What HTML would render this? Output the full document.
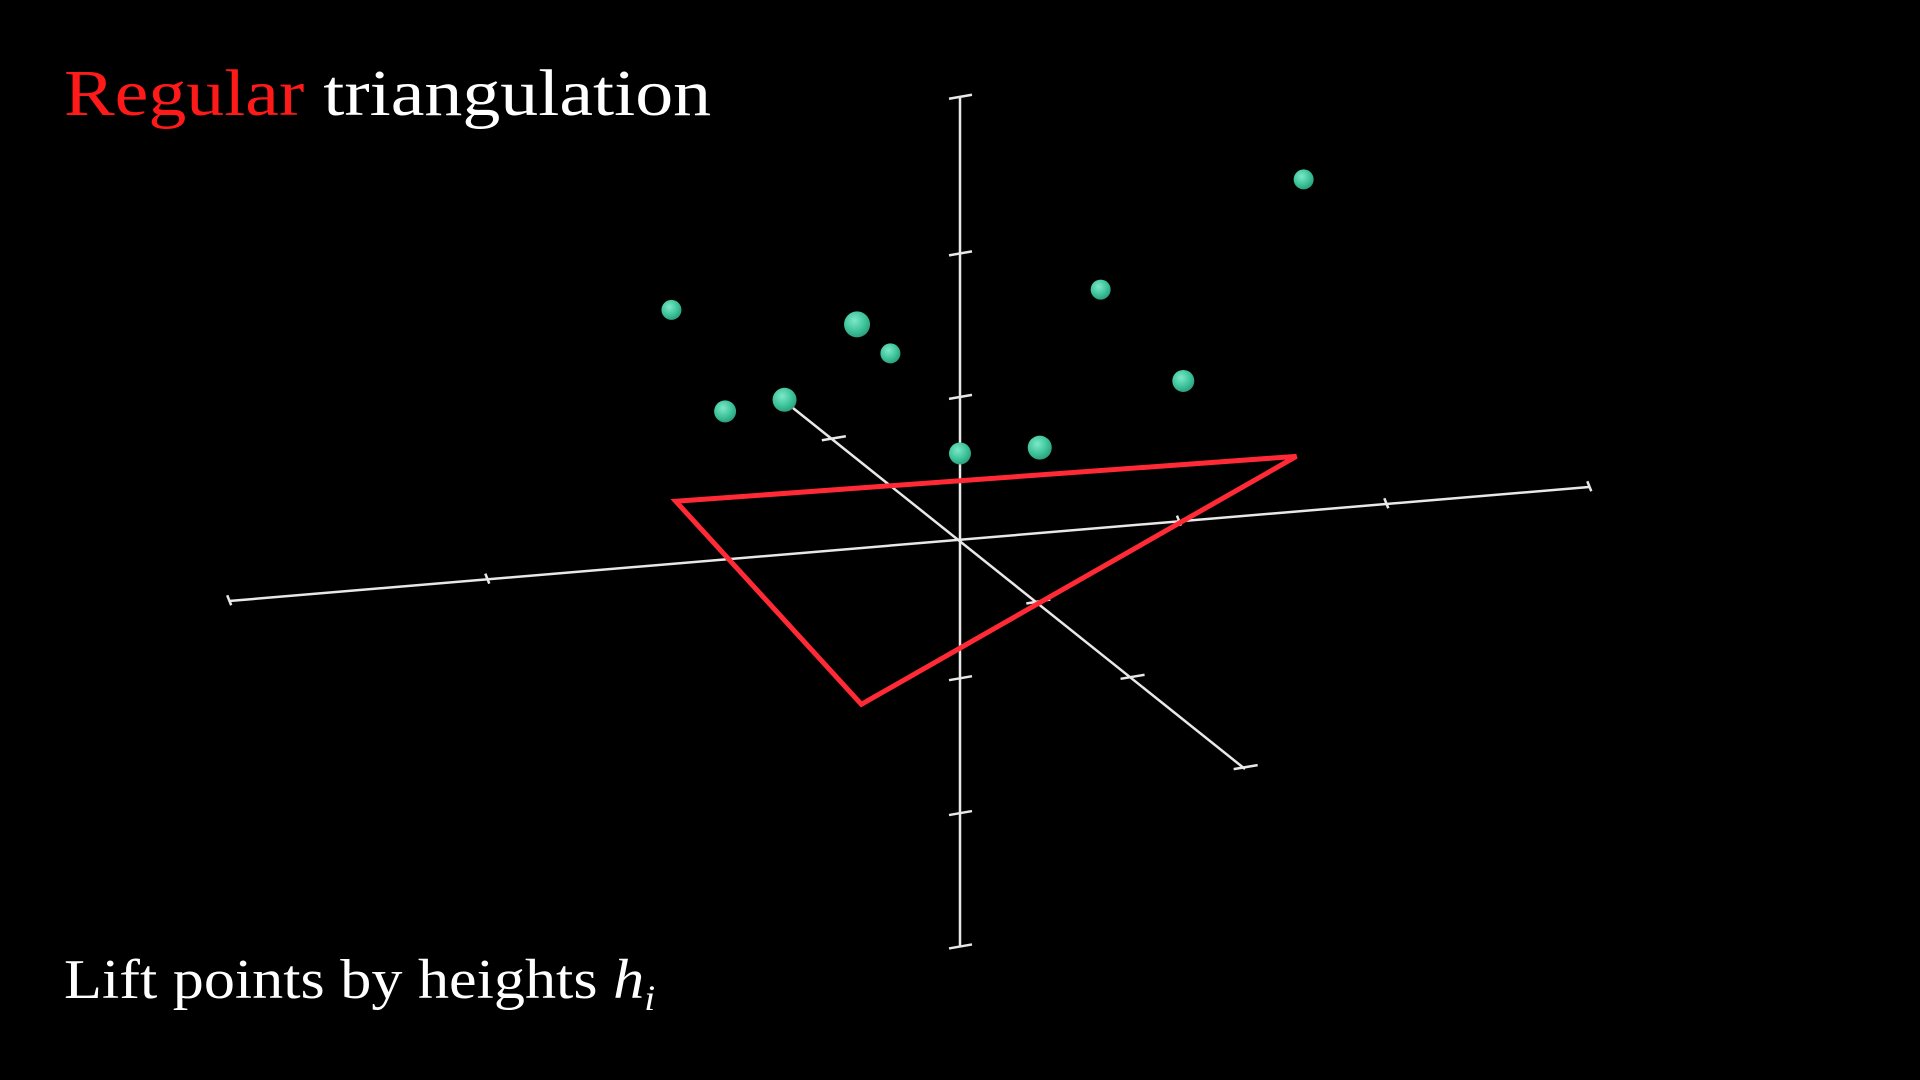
<!DOCTYPE html>
<html><head><meta charset="utf-8"><style>
html,body{margin:0;padding:0;background:#000;width:1920px;height:1080px;overflow:hidden}
svg{position:absolute;left:0;top:0}
.t{position:absolute;font-family:"Liberation Serif",serif;color:#fff;white-space:nowrap;transform-origin:0 0}
</style></head><body>
<div class="t" style="left:64px;top:56px;font-size:66px;transform:scaleX(1.15)"><span style="color:#ff1a1a">Regular</span> triangulation</div>
<div class="t" style="left:64px;top:948px;font-size:56px;transform:scaleX(1.11)">Lift points by heights <i>h<sub style="font-size:36px">i</sub></i></div>
<svg id="c" width="1920" height="1080"></svg>
<script>
// projected values in axis units (origin at axes intersection, 1 unit = vertical tick spacing)
const pointU = [-1.99,-1.62,-1.21,-0.71,-0.48,0.0,0.55,0.97,1.54,2.37];
const pointV = [1.58,0.88,0.96,1.48,1.28,0.59,0.63,1.72,1.09,2.48];
const pointR = [10,11,12,13,10,11,12,10,11,10];
const triU = [-1.96,2.32,-0.68];
const triV = [0.26,0.57,-1.14];
const vTicks = [3.05,1.97,0.98,-0.96,-1.89,-2.81];
const hTicks = [-5.04,-3.26,1.51,2.94,4.34];   // along horizontal axis (u values)
const dTicks = [-0.87,0.54,1.19,1.97];         // along depth axis (u values)
const OX=960, OY=539, S=145;
const sx=u=>OX+u*S, sy=v=>OY-v*S;
const svg=document.getElementById('c'), NS='http://www.w3.org/2000/svg';
function mk(t,a,name){const e=document.createElementNS(NS,t);for(const k in a)e.setAttribute(k,a[k]);


svg.appendChild(e);return e;}
const W='#e8e8e8';
// vertical axis
mk('line',{x1:960,y1:sy(3.05),x2:960,y2:sy(-2.81),stroke:W,'stroke-width':2.5},'z-axis');
vTicks.forEach(v=>mk('line',{x1:949,y1:sy(v)+2,x2:972,y2:sy(v)-2,stroke:W,'stroke-width':2.5},'z-axis-tick'));
// horizontal axis
const hs=(487-601)/(1589-229);
mk('line',{x1:229,y1:601,x2:1589,y2:487,stroke:W,'stroke-width':2.5},'x-axis');
hTicks.forEach(u=>{const x=sx(u),y=OY+(x-OX)*hs;mk('line',{x1:x-2,y1:y-5,x2:x+2,y2:y+5,stroke:W,'stroke-width':2.5},'x-axis-tick');});
// depth axis
const ds=(769-408)/(1245-793);
mk('line',{x1:793,y1:408,x2:1245,y2:769,stroke:W,'stroke-width':2.5},'y-axis');
dTicks.forEach(u=>{const x=sx(u),y=OY+(x-OX)*ds;mk('line',{x1:x-12,y1:y+2,x2:x+12,y2:y-2,stroke:W,'stroke-width':2.5},'y-axis-tick');});
// triangle
mk('polygon',{points:triU.map((u,i)=>sx(u)+','+sy(triV[i])).join(' '),fill:'none',stroke:'#ff2a35','stroke-width':5,'stroke-linejoin':'miter'},'red-triangle');
// points
const g=mk('radialGradient',{id:'pg',cx:'0.4',cy:'0.35',r:'0.7'},'point-gradient');
[['0','#7ee8c8'],['0.6','#3cc39a'],['1','#2a9a78']].forEach(s=>{const st=document.createElementNS(NS,'stop');st.setAttribute('offset',s[0]);st.setAttribute('stop-color',s[1]);g.appendChild(st);});
pointU.forEach((u,i)=>mk('circle',{cx:sx(u),cy:sy(pointV[i]),r:pointR[i],fill:'url(#pg)'},'lifted-point'));
</script>
</body></html>
